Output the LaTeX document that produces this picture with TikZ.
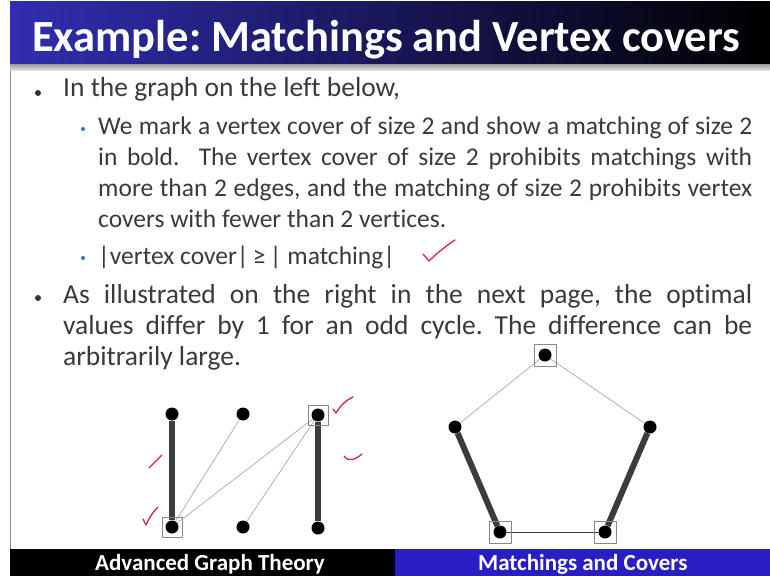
\documentclass[tikz,border=0pt]{standalone}
\usepackage{fontspec}
\setmainfont[Ligatures=NoCommon]{Carlito}
\usetikzlibrary{positioning}
\definecolor{SlideTitleBlue}{RGB}{48,46,176}
\definecolor{SlideFootBlue}{RGB}{40,30,196}
\definecolor{SlideText}{RGB}{58,58,58}
\definecolor{SlideBullet}{RGB}{45,50,75}
\definecolor{SlideSubBullet}{RGB}{60,110,205}
\definecolor{EdgeDark}{RGB}{60,60,60}
\definecolor{EdgeLight}{RGB}{178,178,178}
\definecolor{BoxGray}{RGB}{135,135,135}
\definecolor{InkRed}{RGB}{214,36,76}
\pgfdeclarelayer{bg}
\pgfdeclarelayer{edges}
\pgfsetlayers{bg,edges,main}
\frenchspacing

\begin{document}
\begin{tikzpicture}[x=1bp,y=-1bp,line cap=round,line join=round]
  \path[use as bounding box] (0,0) rectangle (770,576);
  \begin{pgfonlayer}{bg}
    \fill[white] (0,0) rectangle (770,576);
  \end{pgfonlayer}

  \tikzset{
    title/.style={anchor=base west,inner sep=0pt,text=white,
      font=\fontsize{44.5bp}{44.5bp}\selectfont\bfseries},
    foot/.style={anchor=base west,inner sep=0pt,text=white,
      font=\fontsize{23bp}{23bp}\selectfont\bfseries},
    body/.style={anchor=base west,inner sep=0pt,text=SlideText,align=justify,
      font=\fontsize{27.5bp}{31bp}\selectfont},
    subbody/.style={body,font=\fontsize{25.5bp}{31bp}\selectfont},
    bullet/.style={circle,fill=SlideBullet,inner sep=0pt,minimum size=6bp},
    subbullet/.style={circle,fill=SlideSubBullet,inner sep=0pt,minimum size=4bp},
    vertex/.style={circle,fill=black,inner sep=0pt,minimum size=13bp},
    coverbox/.style={rectangle,draw=BoxGray,line width=0.8bp,inner sep=0pt,
      minimum size=20bp},
    matchedge/.style={line width=6bp,EdgeDark},
    plainedge/.style={line width=0.8bp,EdgeLight},
    ink/.style={line width=1.3bp,InkRed},
  }

  % title bar and footer
  \shade[left color=SlideTitleBlue,right color=black] (10,2) rectangle (770,65);
  \shade[top color=black!35,bottom color=black!8] (10,65) rectangle (770,71);
  \draw[black!45,line width=0.8bp] (10,71) -- (10,549);
  \node[title] (heading) at (32,52) {Example: Matchings and Vertex covers};
  \fill[black] (10,549) rectangle (395,576);
  \fill[SlideFootBlue] (395,549) rectangle (770,576);
  \node[foot] (course) at (95,570) {Advanced Graph Theory};
  \node[foot] (topic) at (478,570) {Matchings and Covers};

  % text
  \node[bullet] (b1) at (38,93) {};
  \node[body] (line1) at (63,97) {In the graph on the left below,};
  \node[subbullet] (s1) at (83,129) {};
  \node[subbody,text width=654bp] (para1) at (98,135)
    {We mark a vertex cover of size 2 and show a matching of size 2\linebreak
     in bold.\ \ The vertex cover of size 2 prohibits matchings with\linebreak
     more than 2 edges, and the matching of size 2 prohibits vertex\linebreak
     covers with fewer than 2 vertices.};
  \node[subbullet] (s2) at (83,258) {};
  \node[subbody] (ineq) at (98,264) {|vertex cover|\,≥\,| matching|};
  \node[bullet] (b2) at (38,298) {};
  \node[body,text width=689bp] (para2) at (63,303)
    {As illustrated on the right in the next page, the optimal\linebreak
     values differ by 1 for an odd cycle. The difference can be\linebreak
     arbitrarily large.};

  % left graph
  \node[vertex] (a1) at (172,414) {};
  \node[vertex] (a2) at (172,527) {};
  \node[vertex] (b1v) at (243,414) {};
  \node[vertex] (b2v) at (243,527) {};
  \node[vertex] (c1) at (318,415) {};
  \node[vertex] (c2) at (318,528) {};
  \node[coverbox] at (a2) {};
  \node[coverbox] at (c1) {};
  \begin{pgfonlayer}{edges}
    \draw[matchedge] (a1) -- (a2);
    \draw[matchedge] (c1) -- (c2);
    \draw[plainedge] (a2) -- (b1v);
    \draw[plainedge] (a2) -- (c1);
    \draw[plainedge] (b2v) -- (c1);
  \end{pgfonlayer}

  % odd cycle
  \node[vertex] (p1) at (545,355) {};
  \node[vertex] (p2) at (455,427) {};
  \node[vertex] (p3) at (500,532) {};
  \node[vertex] (p4) at (605,532) {};
  \node[vertex] (p5) at (650,427) {};
  \node[coverbox,minimum size=22bp] at (p1) {};
  \node[coverbox,minimum size=22bp] at (p3) {};
  \node[coverbox,minimum size=22bp] at (p4) {};
  \begin{pgfonlayer}{edges}
    \draw[plainedge] (p1) -- (p2);
    \draw[plainedge] (p1) -- (p5);
    \draw[plainedge,EdgeDark] (p3) -- (p4);
    \draw[matchedge] (p2) -- (p3);
    \draw[matchedge] (p4) -- (p5);
  \end{pgfonlayer}

  % handwritten ticks
  \draw[ink] (423,254) -- (429,261) .. controls (437,253) and (446,246) .. (455,240);
  \draw[ink] (143,519) -- (146,525) .. controls (149,518) and (153,512) .. (158,507);
  \draw[ink] (149,468) .. controls (151,466) .. (153,464) -- (162,455);
  \draw[ink] (333,409) -- (336,413) .. controls (341,405) and (346,400) .. (353,397);
  \draw[ink] (344,456) .. controls (348,462) and (355,460) .. (362,454);
\end{tikzpicture}
\end{document}
